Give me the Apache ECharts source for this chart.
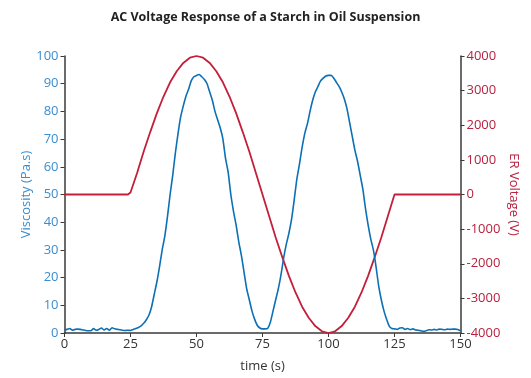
<!DOCTYPE html>
<html>
<head>
<meta charset="utf-8">
<script src="https://cdn.jsdelivr.net/npm/echarts@6/dist/echarts.min.js"></script>
<style>html,body{margin:0;padding:0;background:#fff}#c{width:531px;height:378px}</style>
</head>
<body>
<div id="c"></div>
<script>
// Viscosity (Pa.s) vs time (s)
const viscTime = [0,1,2,3,4,5,6,7,8,9,10,11,12,13,14,15,16,17,18,19,20,21,22,23,24,25,26,27,28,29,30,31,32,33,34,35,36,37,38,39,40,41,42,43,44,45,46,47,48,49,50,51,52,53,54,55,56,57,58,59,60,61,62,63,64,65,66,67,68,69,70,71,72,73,74,75,76,77,78,79,80,81,82,83,84,85,86,87,88,89,90,91,92,93,94,95,96,97,98,99,100,101,102,103,104,105,106,107,108,109,110,111,112,113,114,115,116,117,118,119,120,121,122,123,124,125,126,127,128,129,130,131,132,133,134,135,136,137,138,139,140,141,142,143,144,145,146,147,148,149,150];
const viscosity = [1.2,1.3,1.6,1.0,1.3,1.4,1.3,1.1,0.9,0.8,0.8,1.6,1.0,1.3,1.8,1.1,1.6,1.0,1.9,1.5,1.3,1.2,1.0,0.9,1.0,0.9,1.3,1.6,2.0,2.6,3.5,4.8,6.5,9.5,14,18.5,24,30,35,42,50,57,65,72,78,82,85.5,88,91,92.5,93,93.3,92.5,91.5,90,87,84,80,77,74,70,63,58,50,44,39,33,28,22,16,12,8,5,2.8,1.8,1.5,1.5,1.7,4,8,12,16,21,27,32,36,41,48,55.5,61,67,72,75.5,80,84,87,89,91,92,92.8,93,93,92,90.5,89,87,84.5,81,76,71,66,62,57,52,45,39,34,30,24,17,12,8,5,2.5,1.6,1.5,1.3,1.8,1.9,1.3,1.6,1.2,1.5,1.1,1.0,0.8,0.6,0.8,1.2,1.1,1.3,1.1,1.4,1.3,1.2,1.4,1.3,1.4,1.4,1.3,0.8];
// ER Voltage (V) vs time (s)
const voltTime = [0,24,25,27.5,30,32.5,35,37.5,40,42.5,45,47.5,50,52.5,55,57.5,60,62.5,65,67.5,70,72.5,75,77.5,80,82.5,85,87.5,90,92.5,95,97.5,100,102.5,105,107.5,110,112.5,115,117.5,120,122.5,125,150];
const voltage = [0,0,60,620,1240,1810,2350,2830,3240,3560,3800,3950,4000,3950,3800,3560,3240,2830,2350,1810,1240,620,0,-620,-1240,-1810,-2350,-2830,-3240,-3560,-3800,-3950,-4000,-3950,-3800,-3560,-3240,-2830,-2350,-1810,-1240,-620,0,0];
const xTicks = [0,25,50,75,100,125,150];

const blueLine = '#0b70b5', blueText = '#3a8dcf';
const redLine = '#c41f3a', redText = '#b8213f';
const axisCol = '#3a3a3a';
const font = '"Open Sans", Lato, sans-serif';

const chart = echarts.init(document.getElementById('c'), null, {renderer:'canvas'});
chart.setOption({
  animation:false,
  title:{text:'AC Voltage Response of a Starch in Oil Suspension',left:'center',top:6,
    textStyle:{fontFamily:font,fontSize:12.5,fontWeight:'bold',color:'#222'}},
  grid:{left:64.5,right:70.5,top:56,bottom:40,containLabel:false},
  xAxis:{type:'value',min:0,max:150,interval:25,name:'time (s)',nameLocation:'middle',nameGap:27,nameMoveOverlap:false,
    nameTextStyle:{fontFamily:font,fontSize:13,color:'#333'},
    axisLine:{lineStyle:{color:axisCol,width:1.5}},axisTick:{show:true,length:4,lineStyle:{color:axisCol}},
    axisLabel:{fontFamily:font,fontSize:13,color:'#333',margin:5,formatter:v=>String(v)},splitLine:{show:false}},
  yAxis:[
    {type:'value',min:0,max:100,interval:10,position:'left',name:'Viscosity (Pa.s)',nameLocation:'middle',nameGap:32,nameMoveOverlap:false,
     nameTextStyle:{fontFamily:font,fontSize:13,color:blueText},
     axisLine:{show:true,lineStyle:{color:axisCol,width:1.5}},axisTick:{show:true,length:4,lineStyle:{color:axisCol}},
     axisLabel:{fontFamily:font,fontSize:13,color:blueText,margin:6,formatter:v=>String(v)},splitLine:{show:false}},
    {type:'value',min:-4000,max:4000,interval:1000,position:'right',name:'ER Voltage (V)',nameLocation:'middle',nameGap:47,nameRotate:-90,nameMoveOverlap:false,
     nameTextStyle:{fontFamily:font,fontSize:13,color:redText},
     axisLine:{show:true,lineStyle:{color:axisCol,width:1.5}},axisTick:{show:true,length:4,lineStyle:{color:axisCol}},
     axisLabel:{fontFamily:font,fontSize:13,color:redText,margin:6,formatter:v=>String(v)},splitLine:{show:false}}
  ],
  series:[
    {type:'line',yAxisIndex:1,data:voltTime.map((t,i)=>[t,voltage[i]]),showSymbol:false,smooth:false,
     lineStyle:{color:redLine,width:1.8},z:2},
    {type:'line',yAxisIndex:0,data:viscTime.map((t,i)=>[t,viscosity[i]]),showSymbol:false,smooth:0.2,
     lineStyle:{color:blueLine,width:1.6},z:3}
  ]
});
</script>
</body>
</html>
